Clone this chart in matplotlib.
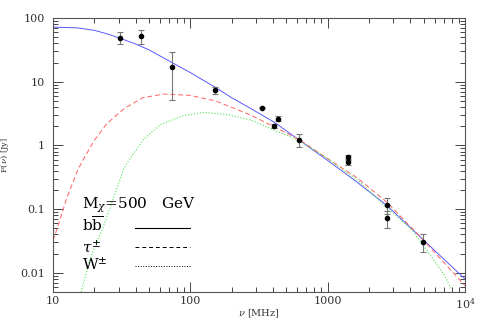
import numpy as np
import matplotlib
matplotlib.use('Agg')
import matplotlib.pyplot as plt
from matplotlib.ticker import FixedLocator, FixedFormatter, LogLocator, NullFormatter

plt.rcParams['font.family'] = ['DejaVu Serif']
plt.rcParams['mathtext.fontset'] = 'dejavuserif'

# observed fluxes
nu_obs = [30.8, 43.6, 74, 152, 330, 410, 436, 614, 1406, 1406, 2700, 2700, 4910]
F_obs = [49, 51.7, 17.3, 7.4, 3.9, 2.05, 2.6, 1.23, 0.66, 0.54, 0.114, 0.072, 0.031]
err_lo = [10, 13, 12.1, 1.0, 0.1, 0.2, 0.2, 0.29, 0.05, 0.04, 0.03, 0.022, 0.010]
err_hi = [11, 12.5, 11.8, 0.9, 0.1, 0.15, 0.3, 0.29, 0.05, 0.04, 0.033, 0.02, 0.010]

# b bbar (solid blue)
nu_bb = [10, 15, 20, 25, 30, 40, 50, 75, 100, 150, 200, 275, 410, 615, 1000, 1550, 2700, 4900, 10000]
F_bb = [72, 70, 64, 56, 49, 39, 31.6, 19.5, 13.9, 8.3, 5.6, 3.8, 2.3, 1.23, 0.58, 0.29, 0.114, 0.034, 0.008]

# tau (dashed red)
nu_tau = [10, 10.9, 12.6, 15.2, 16.6, 20, 24.7, 33, 45, 64, 100, 152, 275, 615, 1000, 1640, 2700, 4900, 10000]
F_tau = [0.032, 0.056, 0.15, 0.42, 0.6, 1.2, 2.2, 3.8, 5.6, 6.4, 6.1, 5.0, 3.0, 1.25, 0.62, 0.31, 0.128, 0.034, 0.0063]

# W (dotted green)
nu_w = [16, 18.6, 23.3, 28.4, 32.6, 36, 45.6, 60, 87, 125, 185, 275, 615, 1000, 1740, 2700, 4040, 4910, 7060, 8000]
F_w = [0.005, 0.0167, 0.054, 0.18, 0.42, 0.6, 1.24, 2.1, 2.9, 3.3, 3.05, 2.5, 1.2, 0.62, 0.26, 0.105, 0.049, 0.028, 0.0093, 0.0054]

fig = plt.figure(figsize=(4.91, 3.27), dpi=100)
ax = fig.add_axes([0.108, 0.107, 0.839, 0.838])

ax.plot(nu_bb, F_bb, '-', color='#5a5aff', lw=0.7)
ax.plot(nu_tau, F_tau, '--', color='#ff6060', lw=0.7, dashes=(5, 3))
ax.plot(nu_w, F_w, ':', color='#50e050', lw=0.8)
ax.errorbar(nu_obs, F_obs, yerr=[err_lo, err_hi], fmt='o', ms=3, color='black',
            ecolor='#777777', elinewidth=0.8, capsize=2.5, capthick=0.8)

ax.set_xscale('log')
ax.set_yscale('log')
ax.set_xlim(10, 1e4)
ax.set_ylim(0.005, 100)

ax.xaxis.set_major_locator(FixedLocator([10, 100, 1000, 10000]))
ax.xaxis.set_major_formatter(FixedFormatter(['10', '100', '1000', r'10$^4$']))
ax.yaxis.set_major_locator(FixedLocator([0.01, 0.1, 1, 10, 100]))
ax.yaxis.set_major_formatter(FixedFormatter(['0.01', '0.1', '1', '10', '100']))
ax.xaxis.set_minor_locator(LogLocator(base=10, subs=np.arange(2, 10)))
ax.yaxis.set_minor_locator(LogLocator(base=10, subs=np.arange(2, 10)))
ax.xaxis.set_minor_formatter(NullFormatter())
ax.yaxis.set_minor_formatter(NullFormatter())
ax.tick_params(which='both', direction='in', top=True, right=True, colors='#444444',
               labelcolor='#333333', labelsize=8, width=0.7)
ax.tick_params(which='major', length=7)
ax.tick_params(which='minor', length=3.5)
ax.tick_params(axis='x', which='major', pad=3)
ax.tick_params(axis='y', which='major', pad=6)
for s in ax.spines.values():
    s.set_color('#555555')
    s.set_linewidth(0.8)

ax.set_xlabel(r'$\nu$ [MHz]', fontsize=7, color='#333333', labelpad=-2)
ax.set_ylabel(r'F($\nu$) [Jy]', fontsize=6, color='#333333', labelpad=6)

# legend block
tr = ax.transAxes
ax.text(0.07, 0.317, r'M$_\chi$=500   GeV', transform=tr, fontsize=11, va='center')
ax.text(0.07, 0.245, r'b$\overline{\rm b}$', transform=tr, fontsize=11, va='center')
ax.text(0.07, 0.167, r'$\tau^{\pm}$', transform=tr, fontsize=11, va='center')
ax.text(0.07, 0.099, r'W$^{\pm}$', transform=tr, fontsize=11, va='center')
ax.plot([0.199, 0.332], [0.234, 0.234], '-', color='black', lw=0.8, transform=tr)
ax.plot([0.199, 0.332], [0.164, 0.164], '--', color='black', lw=0.7, dashes=(4, 3), transform=tr)
ax.plot([0.199, 0.332], [0.095, 0.095], ':', color='black', lw=0.7, transform=tr)

fig.savefig('out.png', dpi=100)
